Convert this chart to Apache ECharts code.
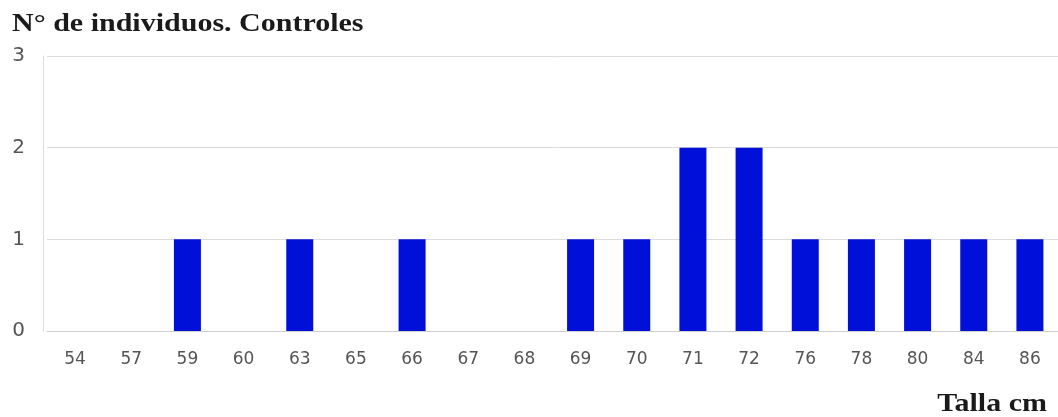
<!DOCTYPE html>
<html>
<head>
<meta charset="utf-8">
<script src="https://cdn.jsdelivr.net/npm/echarts@6/dist/echarts.min.js"></script>
<style>
  html, body { margin: 0; padding: 0; background: #fff; }
  #chart { width: 1058px; height: 417px; }
</style>
</head>
<body>
<div id="chart"></div>
<script>
// Talla (cm) de los controles y número de individuos por talla
const tallas = ['54', '57', '59', '60', '63', '65', '66', '67', '68', '69', '70', '71', '72', '76', '78', '80', '84', '86'];
const individuos = [0, 0, 1, 0, 1, 0, 1, 0, 0, 1, 1, 2, 2, 1, 1, 1, 1, 1];
const yTicks = [0, 1, 2, 3];

const tituloY = 'N° de individuos. Controles';
const tituloX = 'Talla cm';

const chart = echarts.init(document.getElementById('chart'), null, { renderer: 'canvas' });

const serifBold = 'bold 25px "Liberation Serif", "DejaVu Serif", serif';

chart.setOption({
  animation: false,
  backgroundColor: '#ffffff',
  graphic: [
    {
      type: 'text',
      x: 12,
      y: 25,
      scaleX: 1.2,
      style: { text: tituloY, font: serifBold, fill: '#1a1a1a', textAlign: 'left', textVerticalAlign: 'middle' }
    },
    {
      type: 'text',
      x: 1047,
      y: 405,
      scaleX: 1.2,
      style: { text: tituloX, font: serifBold, fill: '#1a1a1a', textAlign: 'right', textVerticalAlign: 'middle' }
    }
  ],
  grid: { left: 47, right: 0, top: 56, bottom: 86, containLabel: false },
  xAxis: {
    type: 'category',
    data: tallas,
    axisLine: { show: true, lineStyle: { color: '#cfcfcf', width: 1 } },
    axisTick: { show: false },
    axisLabel: { color: '#555', fontFamily: 'DejaVu Sans', fontSize: 17, margin: 20 }
  },
  yAxis: {
    type: 'value',
    min: yTicks[0],
    max: yTicks[yTicks.length - 1],
    interval: 1,
    offset: 4,
    axisLine: { show: true, lineStyle: { color: '#dcdcdc', width: 1 } },
    axisTick: { show: false },
    splitLine: { lineStyle: { color: '#dcdcdc', width: 1 } },
    axisLabel: { color: '#555', fontFamily: 'DejaVu Sans', fontSize: 20, margin: 18 }
  },
  series: [{
    type: 'bar',
    data: individuos,
    barWidth: 27,
    itemStyle: { color: '#0010d8' }
  }]
});
</script>
</body>
</html>
